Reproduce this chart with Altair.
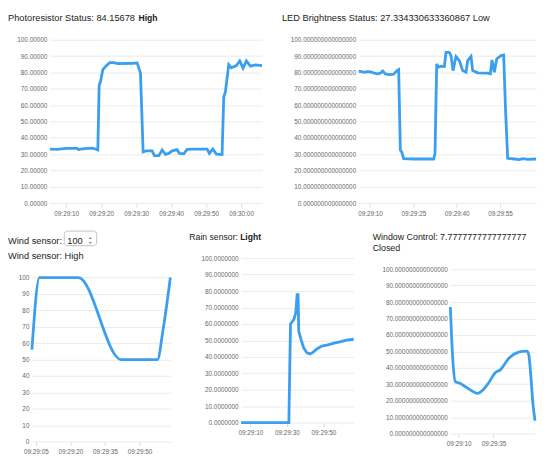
import altair as alt
import pandas as pd

FONT = "Liberation Sans"
BLUE = "#3A9FF0"
TXT = "#222222"

# ---------------- data (seconds after 09:29:00) ----------------
photo_t = [5.33, 7.43, 9.33, 10.29, 13.14, 13.62, 14.1, 16.0, 17.43, 18.38, 19.05, 19.43, 19.81,
           20.48, 21.52, 22.48, 23.62, 24.76, 29.33, 30.29, 31.24, 32.0, 32.86, 34.57, 35.24,
           36.48, 37.43, 38.38, 39.33, 40.29, 41.71, 42.38, 43.62, 44.57, 46.48, 48.38, 50.29,
           50.95, 51.9, 52.95, 54.57, 55.05, 55.52, 56.48, 57.24, 58.67, 59.62, 60.57, 61.52,
           62.67, 64.1, 66.0]
photo_v = [33.1, 32.9, 33.3, 33.5, 33.5, 32.7, 33.1, 33.5, 33.7, 33.1, 32.5, 72.0, 74.4,
           81.7, 84.2, 86.0, 86.0, 85.4, 85.6, 85.8, 79.7, 31.4, 32.0, 32.0, 29.0,
           29.0, 32.5, 29.8, 30.4, 32.0, 32.7, 30.4, 30.2, 32.9, 33.1, 33.1, 33.1,
           30.4, 33.1, 30.0, 29.8, 64.9, 68.0, 84.8, 82.8, 84.2, 87.0, 82.6, 87.0,
           83.8, 84.6, 84.2]

led_t = [6.08, 7.12, 8.04, 8.96, 10.35, 11.5, 12.65, 13.58, 14.38, 15.31, 16.69, 18.19, 19.35,
         19.92, 20.5, 20.96, 21.65, 25.35, 32.04, 32.5, 33.08, 33.65, 34.58, 35.73, 36.31,
         37.46, 38.04, 38.73, 39.77, 40.92, 42.08, 43.23, 43.81, 44.96, 45.54, 47.27, 50.73,
         51.65, 52.23, 53.04, 53.85, 55.35, 56.27, 56.85, 57.65, 59.96, 61.69, 62.85, 64.58, 67.46]
led_v = [80.7, 80.5, 80.1, 80.5, 80.3, 79.5, 79.1, 79.5, 80.9, 79.1, 78.7, 78.9, 81.1,
         81.7, 32.5, 31.4, 27.2, 27.0, 27.0, 30.4, 85.2, 83.2, 83.8, 83.6, 92.3,
         92.3, 90.3, 81.1, 89.7, 87.2, 81.1, 80.1, 87.2, 89.7, 81.1, 79.7, 79.5,
         79.1, 87.6, 80.1, 88.2, 90.3, 90.7, 59.8, 27.4, 27.0, 26.6, 27.2, 26.8, 27.0]

wind_t = [3.3, 6.6, 23.5, 42.0, 57.8, 60.2, 63.4]
wind_v = [56, 100, 100, 50, 50, 68, 100]

rain_t = [4.95, 31.08, 31.98, 33.78, 34.86, 35.59, 36.13, 36.49, 37.75, 39.19, 40.99, 42.79,
          44.59, 46.4, 49.1, 51.8, 54.5, 56.31, 59.01, 62.61, 66.58]
rain_v = [0, 0, 60.0, 62.6, 66.7, 77.8, 77.8, 55.6, 50.5, 45.5, 42.4, 41.8,
          43.0, 44.8, 46.5, 47.1, 47.9, 48.5, 49.1, 50.1, 50.7]

win_t = [4.0, 5.7, 7.6, 10.5, 15.2, 23.6, 30.7, 36.7, 39.5, 46.2, 53.0, 58.8, 60.3, 61.7, 63.3, 64.8]
win_v = [77, 46, 31.5, 30.7, 28.3, 24.5, 29.9, 37.4, 38.5, 46, 49.5, 50.1, 48, 36, 18, 7.8]

Y_TICKS = [0, 10, 20, 30, 40, 50, 60, 70, 80, 90, 100]


def frame(ts, vs):
    stamps = pd.Timestamp("2024-01-01 09:29:00") + pd.to_timedelta(ts, unit="s")
    return pd.DataFrame({"time": [s.strftime("%Y-%m-%dT%H:%M:%S.%f")[:-3] for s in stamps],
                         "value": vs})


def tick(sec):
    m, s = divmod(sec, 60)
    return alt.DateTime(year=2024, month=1, date=1, hours=9, minutes=29 + m, seconds=s)


ONE = pd.DataFrame({"k": [0]})


def label(txt, x, y, bold=False, size=9.3, color=TXT):
    return alt.Chart(ONE).mark_text(
        align="left", baseline="alphabetic", font=FONT, fontSize=size,
        fontWeight="bold" if bold else "normal", color=color
    ).encode(x=alt.value(x), y=alt.value(y), text=alt.value(txt))


def panel(df, w, h, yfmt, xticks, interp, texts, xrange=None, yrange=None, yoffset=0):
    xs = dict(nice=False)
    if xrange is not None:
        xs["range"] = xrange
    ys = dict(domain=[0, 100], nice=False, zero=True)
    if yrange is not None:
        ys["range"] = yrange
    yaxis = dict(values=Y_TICKS, format=yfmt, grid=True, ticks=False, domain=False,
                 labelPadding=3, title=None)
    if yoffset:
        yaxis["offset"] = yoffset
    line = alt.Chart(df).mark_line(color=BLUE, strokeWidth=2.8, interpolate=interp,
                                   clip=False).encode(
        x=alt.X("time:T", scale=alt.Scale(**xs),
                axis=alt.Axis(values=[tick(s) for s in xticks], format="%H:%M:%S", grid=False,
                              domain=False, ticks=True, tickSize=4, labelPadding=3, title=None)),
        y=alt.Y("value:Q", scale=alt.Scale(**ys), axis=alt.Axis(**yaxis)),
    )
    return alt.layer(line, *texts).properties(width=w, height=h)


p1 = panel(frame(photo_t, photo_v), 213, 164, ".5f", [10, 20, 30, 40, 50, 60], "linear",
           [label("Photoresistor Status: 84.15678", -42, -18.5),
            label("High", 89, -18.5, bold=True, size=8.6)])

p2 = panel(frame(led_t, led_v), 178, 164, ".15f", [10, 25, 40, 55], "linear",
           [label("LED Brightness Status: 27.334330633360867 Low", -77, -18.5)])

box = alt.Chart(ONE).mark_rect(fill="white", stroke="#b5b5b5", strokeWidth=0.8,
                               cornerRadius=3).encode(
    x=alt.value(14.5), x2=alt.value(47), y=alt.value(-27.2), y2=alt.value(-12.6))

p3 = panel(frame(wind_t, wind_v), 121, 184, "d", [5, 20, 35, 50], "monotone",
           [label("Wind sensor:", -42, -13.8), box,
            label("100", 17.5, -13.8),
            label("\u25B2", 38.8, -19.2, size=3.5, color="#555"),
            label("\u25BC", 38.8, -14.6, size=3.5, color="#555"),
            label("Wind sensor: High", -42, 0.4)],
           xrange=[-18, 121], yrange=[184, 19.4], yoffset=18)

p4 = panel(frame(rain_t, rain_v), 139, 165, ".7f", [10, 30, 50], "linear",
           [label("Rain sensor:", -52, -17.8, size=8.7),
            label("Light", -1, -17.8, bold=True, size=8.6)],
           xrange=[0, 113])

p5 = panel(frame(win_t, win_v), 85, 176, ".15f", [10, 35], "monotone",
           [label("Window Control: 7.7777777777777777", -78, -17.8, size=8.9),
            label("Closed", -78, -6.8, size=8.9)],
           yrange=[176, 11])

row1 = alt.hconcat(p1, p2, spacing=97, bounds="flush")
row2 = alt.hconcat(p3, p4, p5, spacing=71, bounds="flush")

chart = alt.vconcat(row1, row2, spacing=219.3, bounds="flush").properties(
    padding={"left": 0, "top": 5, "right": 0, "bottom": 0}
).configure_view(stroke=None).configure_axis(
    labelFont=FONT, labelFontSize=6.4, labelColor="#666666",
    gridColor="#e6e6e6", gridWidth=0.8, tickColor="#dddddd"
)

chart.save("out.html", embed_options={"renderer": "svg", "actions": False})
